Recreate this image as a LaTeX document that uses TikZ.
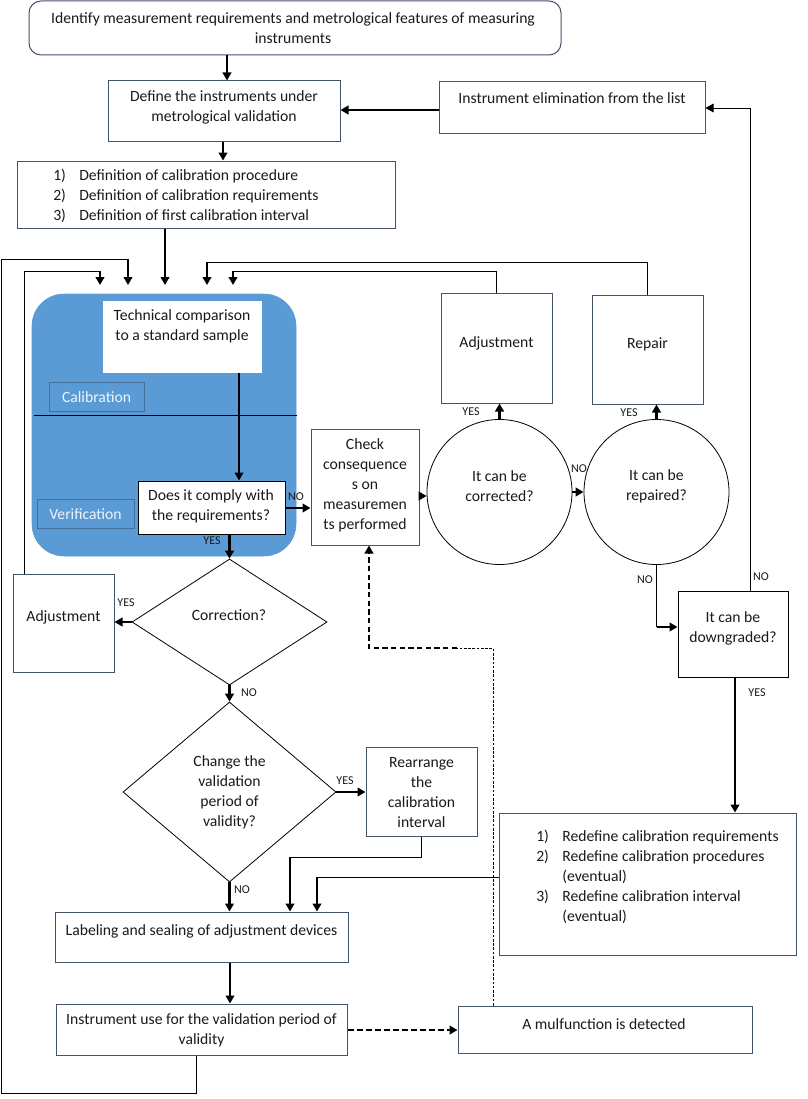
\documentclass[tikz,border=0pt]{standalone}
\usepackage{fontspec}
\setmainfont{Carlito}
\usetikzlibrary{arrows.meta,shapes.geometric,fit}
\definecolor{bluef}{HTML}{5B9BD5}
\definecolor{blued}{HTML}{41719C}
\definecolor{boxc}{HTML}{44546A}
\definecolor{txtc}{HTML}{1A1A1A}
\definecolor{lbltxt}{HTML}{EEF4FA}
\begin{document}
\begin{tikzpicture}[x=0.75pt,y=-0.75pt,
 box/.style={draw=boxc, line width=0.75pt, fill=white, inner sep=0pt},
 txt/.style={font=\fontsize{11.75}{15}\selectfont, align=center, inner sep=0pt, text=txtc},
 lbl/.style={draw=blued, line width=0.75pt, fill=bluef, inner sep=0pt},
 lbltext/.style={font=\fontsize{11.75}{15}\selectfont, inner sep=0pt, text=lbltxt},
 yn/.style={font=\fontsize{9}{10}\selectfont, inner sep=0pt, text=txtc},
 ln/.style={line width=0.75pt, black},
 arr/.style={line width=2pt, black, -{Triangle[length=6pt,width=6.5pt]}},
 thinarr/.style={line width=0.75pt, black, -{Triangle[length=6pt,width=6.5pt]}},
 circ/.style={circle, draw=black, line width=0.6pt, minimum size=108.75pt, inner sep=0pt},
 dia/.style={diamond, draw=black, line width=0.6pt, inner sep=0pt},
]
\useasboundingbox[fill=white] (0,0) rectangle (807,1099);

% ---------- boxes ----------
\node[box, rounded corners=9pt, fit={(29,1) (561,55)}] (top) {};
\node[txt] (top-t) at (293,28) {Identify measurement requirements and metrological features of measuring\\instruments};

\node[box, fit={(108,81) (340,141)}] (def) {};
\node[txt] (def-t) at (224,107) {Define the instruments under\\metrological validation};

\node[box, fit={(17,161) (395,228)}] (list) {};
\node[txt, align=left, anchor=west] (list-t) at (53,196) {\makebox[19.5pt][l]{1)}Definition of calibration procedure\\\makebox[19.5pt][l]{2)}Definition of calibration requirements\\\makebox[19.5pt][l]{3)}Definition of first calibration interval};

\node[box, fit={(439,82) (705,133)}] (elim) {};
\node[txt] (elim-t) at (572,98) {Instrument elimination from the list};

% blue calibration / verification area
\node[fill=bluef, draw=bluef, rounded corners=24pt, inner sep=0pt, fit={(32,294) (296,556)}] (blue) {};
\node[box, draw=white, fit={(103,301) (261,372)}] (tech) {};
\node[txt] (tech-t) at (182,326) {Technical comparison\\to a standard sample};
\node[lbl, fit={(49,382) (144,411)}] (calib) {};
\node[lbltext] (calib-t) at (96.5,397) {Calibration};
\draw[ln] (34,415) -- (297,415);
\node[lbl, fit={(37,499) (134,528)}] (verif) {};
\node[lbltext] (verif-t) at (85.5,514) {Verification};
\node[box, draw=black, fit={(138,481) (285,534)}] (comply) {};
\node[txt] (comply-t) at (211,506) {Does it comply with\\the requirements?};

\node[box, fit={(311,429) (419,545)}] (check) {};
\node[txt] (check-t) at (365,485) {Check\\consequence\\s on\\measuremen\\ts performed};

\node[circ] (c1) at (499.5,492) {};
\node[txt] (c1-t) at (499.5,486) {It can be\\corrected?};
\node[circ] (c2) at (656.5,492) {};
\node[txt] (c2-t) at (656.5,486) {It can be\\repaired?};

\node[box, fit={(441,293) (552,403)}] (adjR) {};
\node[txt] (adjR-t) at (496.5,343) {Adjustment};
\node[box, fit={(592,295) (703,404)}] (repair) {};
\node[txt] (repair-t) at (647.5,344) {Repair};

\node[box, draw=black, fit={(678,591) (788,677)}] (down) {};
\node[txt] (down-t) at (733,628) {It can be\\downgraded?};

\node[box, fit={(499,813) (796,955)}] (redef) {};
\node[txt, align=left, anchor=west] (redef-t) at (536,877) {\makebox[19.5pt][l]{1)}Redefine calibration requirements\\\makebox[19.5pt][l]{2)}Redefine calibration procedures\\\hspace*{19.5pt}(eventual)\\\makebox[19.5pt][l]{3)}Redefine calibration interval\\\hspace*{19.5pt}(eventual)};

\node[dia, minimum width=146.25pt, minimum height=94.5pt] (corr) at (229.5,622) {};
\node[txt] (corr-t) at (229,615) {Correction?};
\node[box, fit={(13,574) (114,672)}] (adjL) {};
\node[txt] (adjL-t) at (63.5,617) {Adjustment};

\node[dia, minimum width=159.75pt, minimum height=135pt] (change) at (229.5,792) {};
\node[txt] (change-t) at (229.5,792) {Change the\\validation\\period of\\validity?};

\node[box, fit={(366,747) (477,836)}] (rearr) {};
\node[txt] (rearr-t) at (421.5,793) {Rearrange\\the\\calibration\\interval};

\node[box, fit={(55,912) (348,962)}] (label) {};
\node[txt] (label-t) at (201.5,931) {Labeling and sealing of adjustment devices};

\node[box, fit={(56,1004) (347,1055)}] (use) {};
\node[txt] (use-t) at (201.5,1030) {Instrument use for the validation period of\\validity};

\node[box, fit={(458,1006) (752,1053)}] (mulf) {};
\node[txt] (mulf-t) at (604,1024) {A mulfunction is detected};

% ---------- connectors ----------
\draw[arr] (top.south -| 227,0) -- (def.north -| 227,0);
\draw[arr] (elim.west |- 0,110) -- (def.east |- 0,110);
\draw[arr] (def.south -| 223,0) -- (list.north -| 223,0);
\draw[arr] (list.south -| 165,0) -- (165,285);

\draw[ln] (use.south -| 196,0) -- (196,1093) -- (1,1093) -- (1,259) -- (128,259);
\draw[arr] (128,259) -- (128,285);
\draw[ln] (adjL.north -| 24,0) -- (24,271) -- (100,271);
\draw[arr] (100,271) -- (100,285);
\draw[ln] (adjR.north) -- (adjR.north |- 0,271) -- (233,271);
\draw[arr] (233,271) -- (233,285);
\draw[ln] (repair.north) -- (repair.north |- 0,262) -- (207,262);
\draw[arr] (207,262) -- (207,285);

\draw[arr] (tech.south -| 239,0) -- (comply.north -| 239,0);
\draw[arr] (comply.east |- 0,508) -- (check.west |- 0,508);
\node[yn] (no1) at (296,497) {NO};
\draw[arr] (comply.south -| corr.north) -- (corr.north);
\node[yn] (yes1) at (212,541) {YES};
\draw[arr] (corr.west) -- (adjL.east |- corr.west);
\node[yn] (yes2) at (126,603) {YES};
\draw[arr] (corr.south) -- (change.north);
\node[yn] (no2) at (249,693) {NO};
\draw[arr] (change.east) -- (rearr.west |- change.east);
\node[yn] (yes3) at (345,781) {YES};
\draw[ln] (rearr.south) -- (rearr.south |- 0,857) -- (290,857);
\draw[arr] (290,857) -- (label.north -| 290,0);
\draw[ln] (redef.west |- 0,877) -- (317,877);
\draw[arr] (317,877) -- (label.north -| 317,0);
\draw[arr] (change.south) -- (label.north -| change.south);
\node[yn] (no3) at (242,890) {NO};
\draw[arr] (label.south -| 230,0) -- (use.north -| 230,0);
\draw[arr, dash pattern=on 4.5pt off 2.25pt] (use.east |- 0,1030) -- (mulf.west |- 0,1030);
\draw[ln, line width=0.6pt, dash pattern=on 2pt off 1.2pt] (mulf.north -| 493,0) -- (493,648) -- (457,648);
\draw[line width=1.5pt, dash pattern=on 4pt off 2.5pt, -{Triangle[length=6pt,width=6.5pt]}] (457,648) -- (369,648) -- (check.south -| 369,0);

\draw[arr] (check.east |- 0,496) -- (c1.west |- 0,496);
\draw[arr] (c1.east) -- (c2.west);
\node[yn] (no4) at (579,469) {NO};
\draw[arr] (c1.north) -- (adjR.south -| c1.north);
\node[yn] (yes4) at (471,412) {YES};
\draw[arr] (c2.north) -- (repair.south -| c2.north);
\node[yn] (yes5) at (629,413) {YES};
\draw[ln] (c2.south) -- (c2.south |- 0,627);
\draw[arr] (c2.south |- 0,627) -- (down.west |- 0,627);
\node[yn] (no5) at (645,580) {NO};
\draw[thinarr] (down.north -| 750,0) -- (750,108) -- (elim.east |- 0,108);
\node[yn] (no6) at (761,577) {NO};
\draw[arr] (down.south -| 735,0) -- (redef.north -| 735,0);
\node[yn] (yes6) at (757,693) {YES};
\end{tikzpicture}
\end{document}
